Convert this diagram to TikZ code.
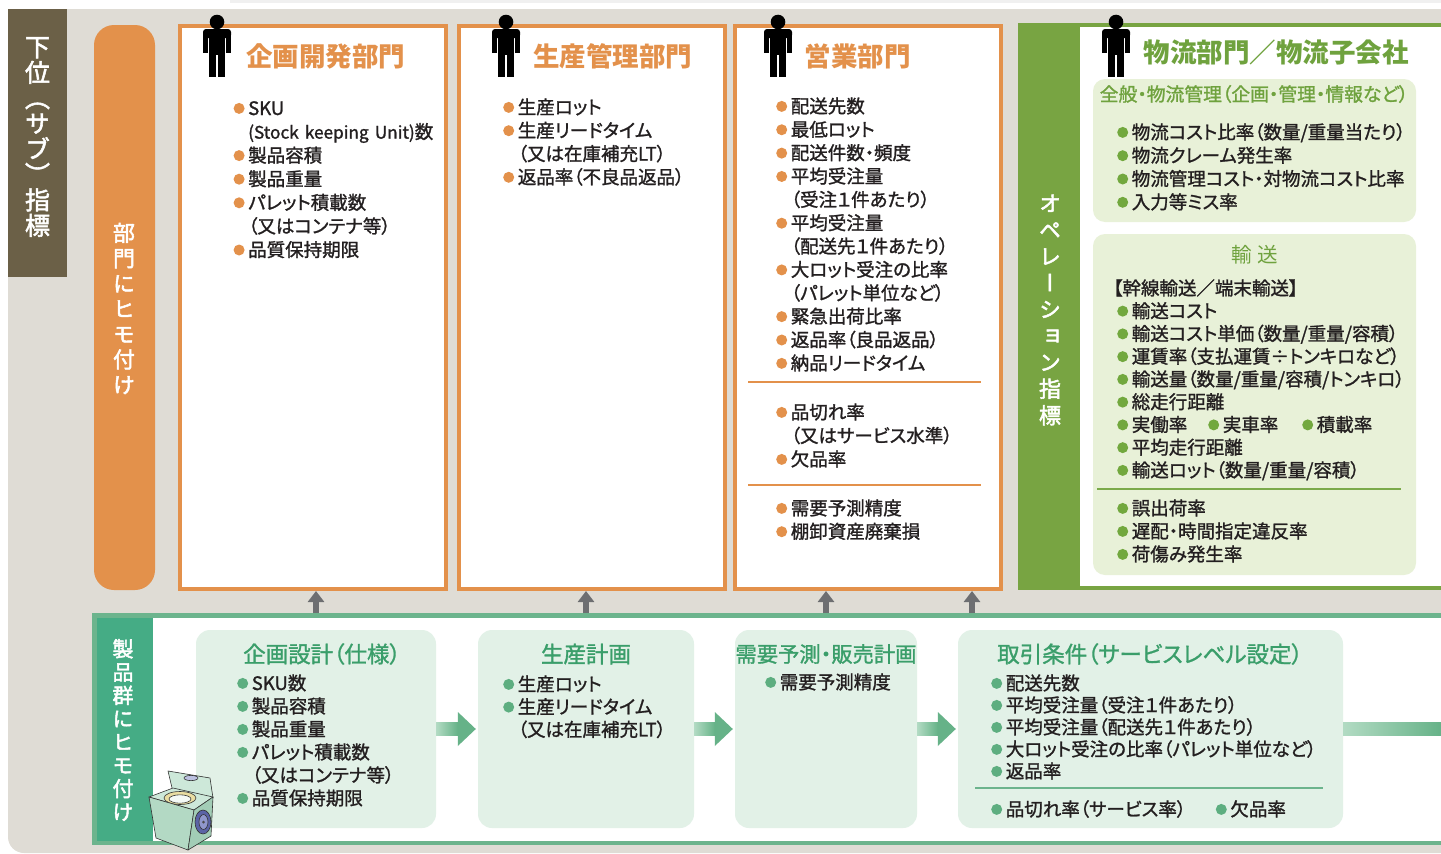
\documentclass[tikz,border=0pt]{standalone}
\usepackage{fontspec}
\usetikzlibrary{arrows.meta,calc,fit}
\setmainfont{Noto Sans CJK JP}[RawFeature=+palt, FakeBold=1.3]
\newfontfamily\vjp{Noto Sans CJK JP}[RawFeature=+vert, FakeBold=2.2]
\newfontfamily\jpfull{Noto Sans CJK JP}

\definecolor{cBg}{HTML}{DFDCD5}
\definecolor{cShade}{HTML}{F0F0F0}
\definecolor{cBrown}{HTML}{6B6047}
\definecolor{cOrange}{HTML}{E3914B}
\definecolor{cOlive}{HTML}{78A442}
\definecolor{cOliveLt}{HTML}{E8F1D8}
\definecolor{cOliveTx}{HTML}{6FA23E}
\definecolor{cOliveLn}{HTML}{7BAA4A}
\definecolor{cOliveBu}{HTML}{72A83E}
\definecolor{cTeal}{HTML}{45AC85}
\definecolor{cMintLn}{HTML}{6CB48D}
\definecolor{cMintArr}{HTML}{66B288}
\definecolor{cMintArrLt}{HTML}{B2DBC3}
\definecolor{cMintLt}{HTML}{E2F1E7}
\definecolor{cMintTx}{HTML}{3A9E6A}
\definecolor{cMintBu}{HTML}{5DAE80}
\definecolor{cArrow}{HTML}{6D6E71}
\definecolor{cInk}{HTML}{231F20}
\definecolor{cWmBody}{HTML}{B3D9C4}
\definecolor{cWmSide}{HTML}{A2CDB6}
\definecolor{cWmTop}{HTML}{CDE8D9}
\definecolor{cWmRim}{HTML}{E9DDA2}
\definecolor{cWmDial}{HTML}{5B63A6}
\definecolor{cWmDialLt}{HTML}{9097CC}

% inline bullet dot
\newcommand\bul[1]{\tikz[baseline=-6.6pt]\fill[#1] (0,0) circle (5.5pt);\hspace{3.6pt}}
\newcommand\ob{\bul{cOrange}}
\newcommand\gb{\bul{cOliveBu}}
\newcommand\mb{\bul{cMintBu}}
\newcommand\ind{\hspace*{14.6pt}}

\tikzset{
  lst/.style={anchor=base west, inner sep=0pt, text width=340pt, align=left,
    text=cInk, font=\fontsize{18.5}{#1}\selectfont},
  lst/.default=23.4pt,
  depbox/.style={draw=cOrange, line width=4pt, fill=white, inner sep=0pt},
  olbox/.style={fill=cOliveLt, rounded corners=12pt, inner sep=0pt},
  mintbox/.style={fill=cMintLt, rounded corners=14pt, inner sep=0pt},
  ttl/.style={inner sep=0pt, text=cOrange, font=\jpfull\bfseries\fontsize{26.5}{30}\selectfont},
  mttl/.style={inner sep=0pt, text=cMintTx, font=\fontsize{22.5}{24}\selectfont},
  vtext/.style={inner sep=0pt, align=center, text=white},
  uparrow/.style={draw=cArrow, line width=6.5pt, -{Triangle[width=16pt,length=11pt]}},
  person/.pic={
    \fill[black] (0,0) circle (7.3);
    \fill[black, rounded corners=3pt] (-14,7) rectangle (14,16);
    \fill[black] (-14,11) rectangle (-9.2,31);
    \fill[black] (9.2,11) rectangle (14,31);
    \fill[black] (-8.2,11) rectangle (8.2,33);
    \fill[black] (-8.2,32) rectangle (-0.6,55);
    \fill[black] (0.6,32) rectangle (8.2,55);
  },
}

% shaded shaft plus solid head between two boxes
\newcommand\flowarrow[2]{%
  \shade[left color=cMintArrLt, right color=cMintArr]
    ($(#1.east)+(0,-6.5)$) rectangle ($(#2.west)+(-20,6.5)$);
  \fill[cMintArr] ($(#2.west)+(-20,-17)$) -- ($(#2.west)+(-2,0)$)
    -- ($(#2.west)+(-20,17)$) -- cycle;}

\begin{document}
\begin{tikzpicture}[x=1pt, y=-1pt]
\useasboundingbox (0,0) rectangle (1441,854);

% page background
\fill[cShade] (230,0) rectangle (1441,3);
\fill[cBg, rounded corners=16pt] (8,9) rectangle (1470,853);
\fill[cBrown] (8,9) rectangle (67,277);
\node[vtext, font=\vjp\fontsize{25}{25.5}\selectfont] (subidx) at (37.5,137)
  {下\\位\\（\\サ\\ブ\\）\\指\\標};

% department band
\fill[cOrange, rounded corners=20pt] (94,25) rectangle (155,590);
\node[vtext, font=\vjp\fontsize{22}{25.3}\selectfont] (deplink) at (124,308.5)
  {部\\門\\に\\ヒ\\モ\\付\\け};

% department boxes
\node[depbox, fit={(180,26) (446,589)}] (dep1) {};
\node[depbox, fit={(459,26) (725,589)}] (dep2) {};
\node[depbox, fit={(735,26) (1001,589)}] (dep3) {};

% logistics block
\fill[cOlive] (1018,23) rectangle (1470,590);
\node[fill=white, inner sep=0pt, fit={(1080,27) (1470,586)}] (logi) {};
\node[vtext, font=\vjp\fontsize{22}{26.5}\selectfont] (opidx) at (1050,310)
  {オ\\ペ\\レ\\ー\\シ\\ョ\\ン\\指\\標};

\pic at (217,22) {person};
\pic at (506,22) {person};
\pic at (778,22) {person};
\pic at (1116,22) {person};

\node[ttl] (t1) at (325.5,56) {企画開発部門};
\node[ttl] (t2) at (612.5,56) {生産管理部門};
\node[ttl] (t3) at (857.5,56) {営業部門};
\node[ttl, text=cOliveTx] (t4) at (1276,52) {物流部門／物流子会社};

% department lists
\node[lst=23.6pt] (l1) at (233.4,115) {\ob SKU\\
  \ind{\fontsize{17.2}{23.6}\selectfont(Stock keeping Unit)}数\\
  \ob 製品容積\\
  \ob 製品重量\\
  \ob パレット積載数\\
  \ind（又はコンテナ等）\\
  \ob 品質保持期限};
\node[lst=23.3pt] (l2) at (503,114) {\ob 生産ロット\\
  \ob 生産リードタイム\\
  \ind（又は在庫補充LT）\\
  \ob 返品率（不良品返品）};
\node[lst=23.36pt] (l3a) at (776,113) {\ob 配送先数\\
  \ob 最低ロット\\
  \ob 配送件数・頻度\\
  \ob 平均受注量\\
  \ind（受注１件あたり）\\
  \ob 平均受注量\\
  \ind（配送先１件あたり）\\
  \ob 大ロット受注の比率\\
  \ind（パレット単位など）\\
  \ob 緊急出荷比率\\
  \ob 返品率（良品返品）\\
  \ob 納品リードタイム};
\draw[cOrange, line width=2pt] (748,382) -- (981,382);
\node[lst=23.5pt] (l3b) at (776,419) {\ob 品切れ率\\
  \ind（又はサービス水準）\\
  \ob 欠品率};
\draw[cOrange, line width=2pt] (748,485) -- (981,485);
\node[lst=23.3pt] (l3c) at (776,515) {\ob 需要予測精度\\
  \ob 棚卸資産廃棄損};

% logistics panels
\node[olbox, fit={(1093,79) (1416,222)}] (gen) {};
\node[inner sep=0pt, text=cOliveTx, font=\fontsize{18.8}{22}\selectfont] (gent) at (1254,94)
  {全般・物流管理（企画・管理・情報など）};
\node[lst=23.3pt] (l4a) at (1117,139) {\gb 物流コスト比率（数量/重量当たり）\\
  \gb 物流クレーム発生率\\
  \gb 物流管理コスト・対物流コスト比率\\
  \gb 入力等ミス率};

\node[olbox, fit={(1093,234) (1416,575)}] (trn) {};
\node[inner sep=0pt, text=cOliveTx, font=\jpfull\fontsize{20.5}{22}\selectfont] (trnt) at (1255,255)
  {輸\hspace{6pt}送};
\node[lst=22.75pt] (l4b) at (1117,295) {\hspace*{-4pt}【幹線輸送／端末輸送】\\
  \gb 輸送コスト\\
  \gb 輸送コスト単価（数量/重量/容積）\\
  \gb 運賃率（支払運賃÷トンキロなど）\\
  \gb 輸送量（数量/重量/容積/トンキロ）\\
  \gb 総走行距離\\
  \makebox[91pt][l]{\gb 実働率}\makebox[94pt][l]{\gb 実車率}\gb 積載率\\
  \gb 平均走行距離\\
  \gb 輸送ロット（数量/重量/容積）};
\draw[cOliveLn, line width=2pt] (1097,488.5) -- (1401,488.5);
\node[lst=23pt] (l4c) at (1117,515) {\gb 誤出荷率\\
  \gb 遅配・時間指定違反率\\
  \gb 荷傷み発生率};

% product group block
\node[draw=cMintLn, line width=4.5pt, fill=white, inner sep=0pt,
  fit={(94.25,615.5) (1470,842.75)}] (lower) {};
\fill[cTeal] (96.5,617.75) rectangle (153,840.5);
\node[vtext, font=\vjp\fontsize{21}{23.3}\selectfont] (grplink) at (123,730)
  {製\\品\\群\\に\\ヒ\\モ\\付\\け};

% links from product group block up to departments
\coordinate (u1) at (316,0);
\coordinate (u2) at (586,0);
\coordinate (u3) at (826,0);
\coordinate (u4) at (972,0);
\draw[uparrow] (u1 |- lower.north) -- (u1 |- dep1.south);
\draw[uparrow] (u2 |- lower.north) -- (u2 |- dep2.south);
\draw[uparrow] (u3 |- lower.north) -- (u3 |- dep3.south);
\draw[uparrow] (u4 |- lower.north) -- (u4 |- dep3.south);

% planning stages
\node[mintbox, fit={(196,630) (436,828)}] (pA) {};
\node[mintbox, fit={(478,630) (694,828)}] (pB) {};
\node[mintbox, fit={(735,630) (917,828)}] (pC) {};
\node[mintbox, fit={(958,630) (1343,828)}] (pD) {};

\flowarrow{pA}{pB}
\flowarrow{pB}{pC}
\flowarrow{pC}{pD}
\coordinate (tailend) at (1441,729);
\shade[left color=cMintArrLt, right color=cMintArr]
  ($(pD.east)+(0,-6.5)$) rectangle ($(tailend)+(0,6.5)$);

\node[mttl] (tA) at (322,654) {企画設計（仕様）};
\node[mttl] (tB) at (586,654) {生産計画};
\node[mttl, font=\fontsize{21.3}{24}\selectfont] (tC) at (826,654) {需要予測・販売計画};
\node[mttl] (tD) at (1150,654) {取引条件（サービスレベル設定）};

\node[lst=23pt] (lA) at (237,690) {\mb SKU数\\
  \mb 製品容積\\
  \mb 製品重量\\
  \mb パレット積載数\\
  \ind（又はコンテナ等）\\
  \mb 品質保持期限};
\node[lst=22.7pt] (lB) at (503,691) {\mb 生産ロット\\
  \mb 生産リードタイム\\
  \ind（又は在庫補充LT）};
\node[lst] (lC) at (765,689) {\mb 需要予測精度};
\node[lst=22pt] (lD) at (991,690) {\mb 配送先数\\
  \mb 平均受注量（受注１件あたり）\\
  \mb 平均受注量（配送先１件あたり）\\
  \mb 大ロット受注の比率（パレット単位など）\\
  \mb 返品率};
\draw[cMintLn, line width=2pt] (975,788) -- (1323,788);
\node[lst] (lD2) at (991,816) {\mb 品切れ率（サービス率）};
\node[lst] (lD3) at (1215.6,816) {\mb 欠品率};

% washing machine
\begin{scope}[draw=black!80, line width=0.6pt, line join=round]
  \filldraw[fill=cWmTop] (168,771) -- (210,778) -- (213,798) -- (173,792) -- cycle;
  \filldraw[fill=cWmDialLt!60] (191,778) ellipse (7 and 2.6);
  \filldraw[fill=cWmTop] (149,797) -- (173,788) -- (213,797) -- (194,810) -- cycle;
  \filldraw[fill=cWmRim] (180,798) ellipse (16 and 6.5);
  \filldraw[fill=white!85!cWmBody] (180,799) ellipse (11 and 4.2);
  \filldraw[fill=cWmBody] (149,797) -- (194,810) -- (188,850) -- (156,838) -- cycle;
  \filldraw[fill=cWmSide] (194,810) -- (213,797) -- (211,836) -- (188,850) -- cycle;
  \filldraw[fill=cWmDial] (203,822) ellipse (8 and 12);
  \filldraw[fill=cWmDialLt] (203.5,822) ellipse (4.5 and 7.5);
  \fill[black!70] (203.5,822) circle (1.5);
\end{scope}
\end{tikzpicture}
\end{document}
